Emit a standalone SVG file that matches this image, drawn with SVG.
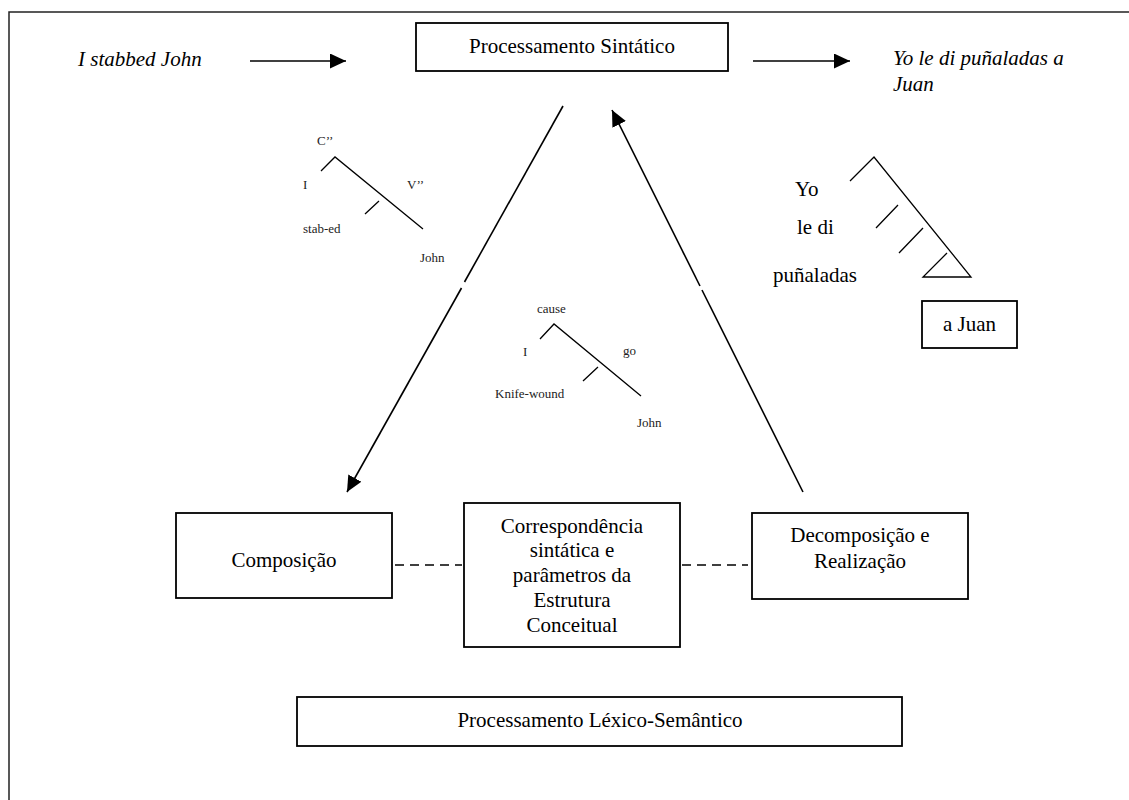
<svg xmlns="http://www.w3.org/2000/svg" width="1129" height="800" viewBox="0 0 1129 800">
  <style>
    .box { fill: #fff; stroke: #000; stroke-width: 1.8; }
    .frame { fill: none; stroke: #222; stroke-width: 1.5; }
    .t { font-family: "Liberation Serif", "Times New Roman", serif; fill: #000; }
    .big { font-size: 21px; }
    .small { font-size: 13px; fill: #222; }
    .it { font-style: italic; }
    .mid { text-anchor: middle; }
    .arrow { fill: none; stroke: #000; stroke-width: 1.6; }
    .dash { fill: none; stroke: #000; stroke-width: 1.6; stroke-dasharray: 9 6; }
    .tree { fill: none; stroke: #000; stroke-width: 1.3; }
  </style>
  <defs>
    <marker id="head" markerUnits="userSpaceOnUse" markerWidth="17" markerHeight="16" refX="16" refY="7.5" orient="auto">
      <path d="M0,0 L16,7.5 L0,15 z" fill="#000"/>
    </marker>
  </defs>

  <rect width="1129" height="800" fill="#fff"/>
  <!-- page frame -->
  <path class="frame" d="M9,800 V12 H1129"/>

  <!-- input and output sentences -->
  <g id="input-sentence">
    <text class="t big it" x="78" y="66">I stabbed John</text>
  </g>
  <g id="output-sentence">
    <text class="t big it" x="893" y="65">Yo le di puñaladas a</text>
    <text class="t big it" x="893" y="91">Juan</text>
  </g>

  <!-- syntactic processing -->
  <g id="processamento-sintatico">
    <rect class="box" x="416" y="23" width="312" height="48"/>
    <text class="t big mid" x="572" y="53">Processamento Sintático</text>
  </g>

  <!-- lower boxes -->
  <g id="composicao">
    <rect class="box" x="176" y="513" width="216" height="85"/>
    <text class="t big mid" x="284" y="567">Composição</text>
  </g>
  <g id="correspondencia">
    <rect class="box" x="464" y="503" width="216" height="144"/>
    <text class="t big mid" x="572" y="533">Correspondência</text>
    <text class="t big mid" x="572" y="557">sintática e</text>
    <text class="t big mid" x="572" y="582">parâmetros da</text>
    <text class="t big mid" x="572" y="607">Estrutura</text>
    <text class="t big mid" x="572" y="632">Conceitual</text>
  </g>
  <g id="decomposicao">
    <rect class="box" x="752" y="513" width="216" height="86"/>
    <text class="t big mid" x="860" y="542">Decomposição e</text>
    <text class="t big mid" x="860" y="568">Realização</text>
  </g>
  <g id="processamento-lexico">
    <rect class="box" x="297" y="697" width="605" height="49"/>
    <text class="t big mid" x="600" y="727">Processamento Léxico-Semântico</text>
  </g>

  <!-- tree: C'' / I / stab-ed / John -->
  <g id="tree-english">
    <path class="tree" d="M321,171 L335,157 L423,229 M379,201 L365,214"/>
    <text class="t small" x="317" y="145">C’’</text>
    <text class="t small" x="303" y="189">I</text>
    <text class="t small" x="407" y="189">V’’</text>
    <text class="t small" x="303" y="233">stab-ed</text>
    <text class="t small" x="420" y="262">John</text>
  </g>

  <!-- tree: cause / I / go / Knife-wound / John -->
  <g id="tree-conceptual">
    <path class="tree" d="M540,339 L554,324 L641,396 M598,367 L583,381"/>
    <text class="t small" x="537" y="313">cause</text>
    <text class="t small" x="523" y="356">I</text>
    <text class="t small" x="623" y="355">go</text>
    <text class="t small" x="495" y="398">Knife-wound</text>
    <text class="t small" x="637" y="427">John</text>
  </g>

  <!-- tree: Yo / le di / puñaladas / a Juan -->
  <g id="tree-spanish">
    <path class="tree" d="M850,181 L874,157 L971,277 L923,277 L947,253 M898,205 L876,228 M923,228 L899,253"/>
    <text class="t big" x="795" y="196">Yo</text>
    <text class="t big" x="797" y="234">le di</text>
    <text class="t big" x="773" y="282">puñaladas</text>
  </g>
  <g id="a-juan">
    <rect class="box" x="922" y="301" width="95" height="47"/>
    <text class="t big" x="943" y="331">a Juan</text>
  </g>

  <!-- connectors -->
  <g id="connectors">
    <line class="arrow" x1="250" y1="61" x2="346" y2="61" marker-end="url(#head)"/>
    <line class="arrow" x1="753" y1="61" x2="850" y2="61" marker-end="url(#head)"/>
    <!-- syntactic processing down to composition -->
    <line class="arrow" x1="563" y1="106" x2="464.5" y2="282"/>
    <line class="arrow" x1="461.5" y1="288" x2="347" y2="492" marker-end="url(#head)"/>
    <!-- decomposition back up to syntactic processing -->
    <line class="arrow" x1="803" y1="492" x2="702" y2="290"/>
    <line class="arrow" x1="700" y1="286" x2="612" y2="110" marker-end="url(#head)"/>
    <!-- dashed links between lower boxes -->
    <line class="dash" x1="395" y1="565" x2="462" y2="565"/>
    <line class="dash" x1="682" y1="565" x2="748" y2="565"/>
  </g>
</svg>
